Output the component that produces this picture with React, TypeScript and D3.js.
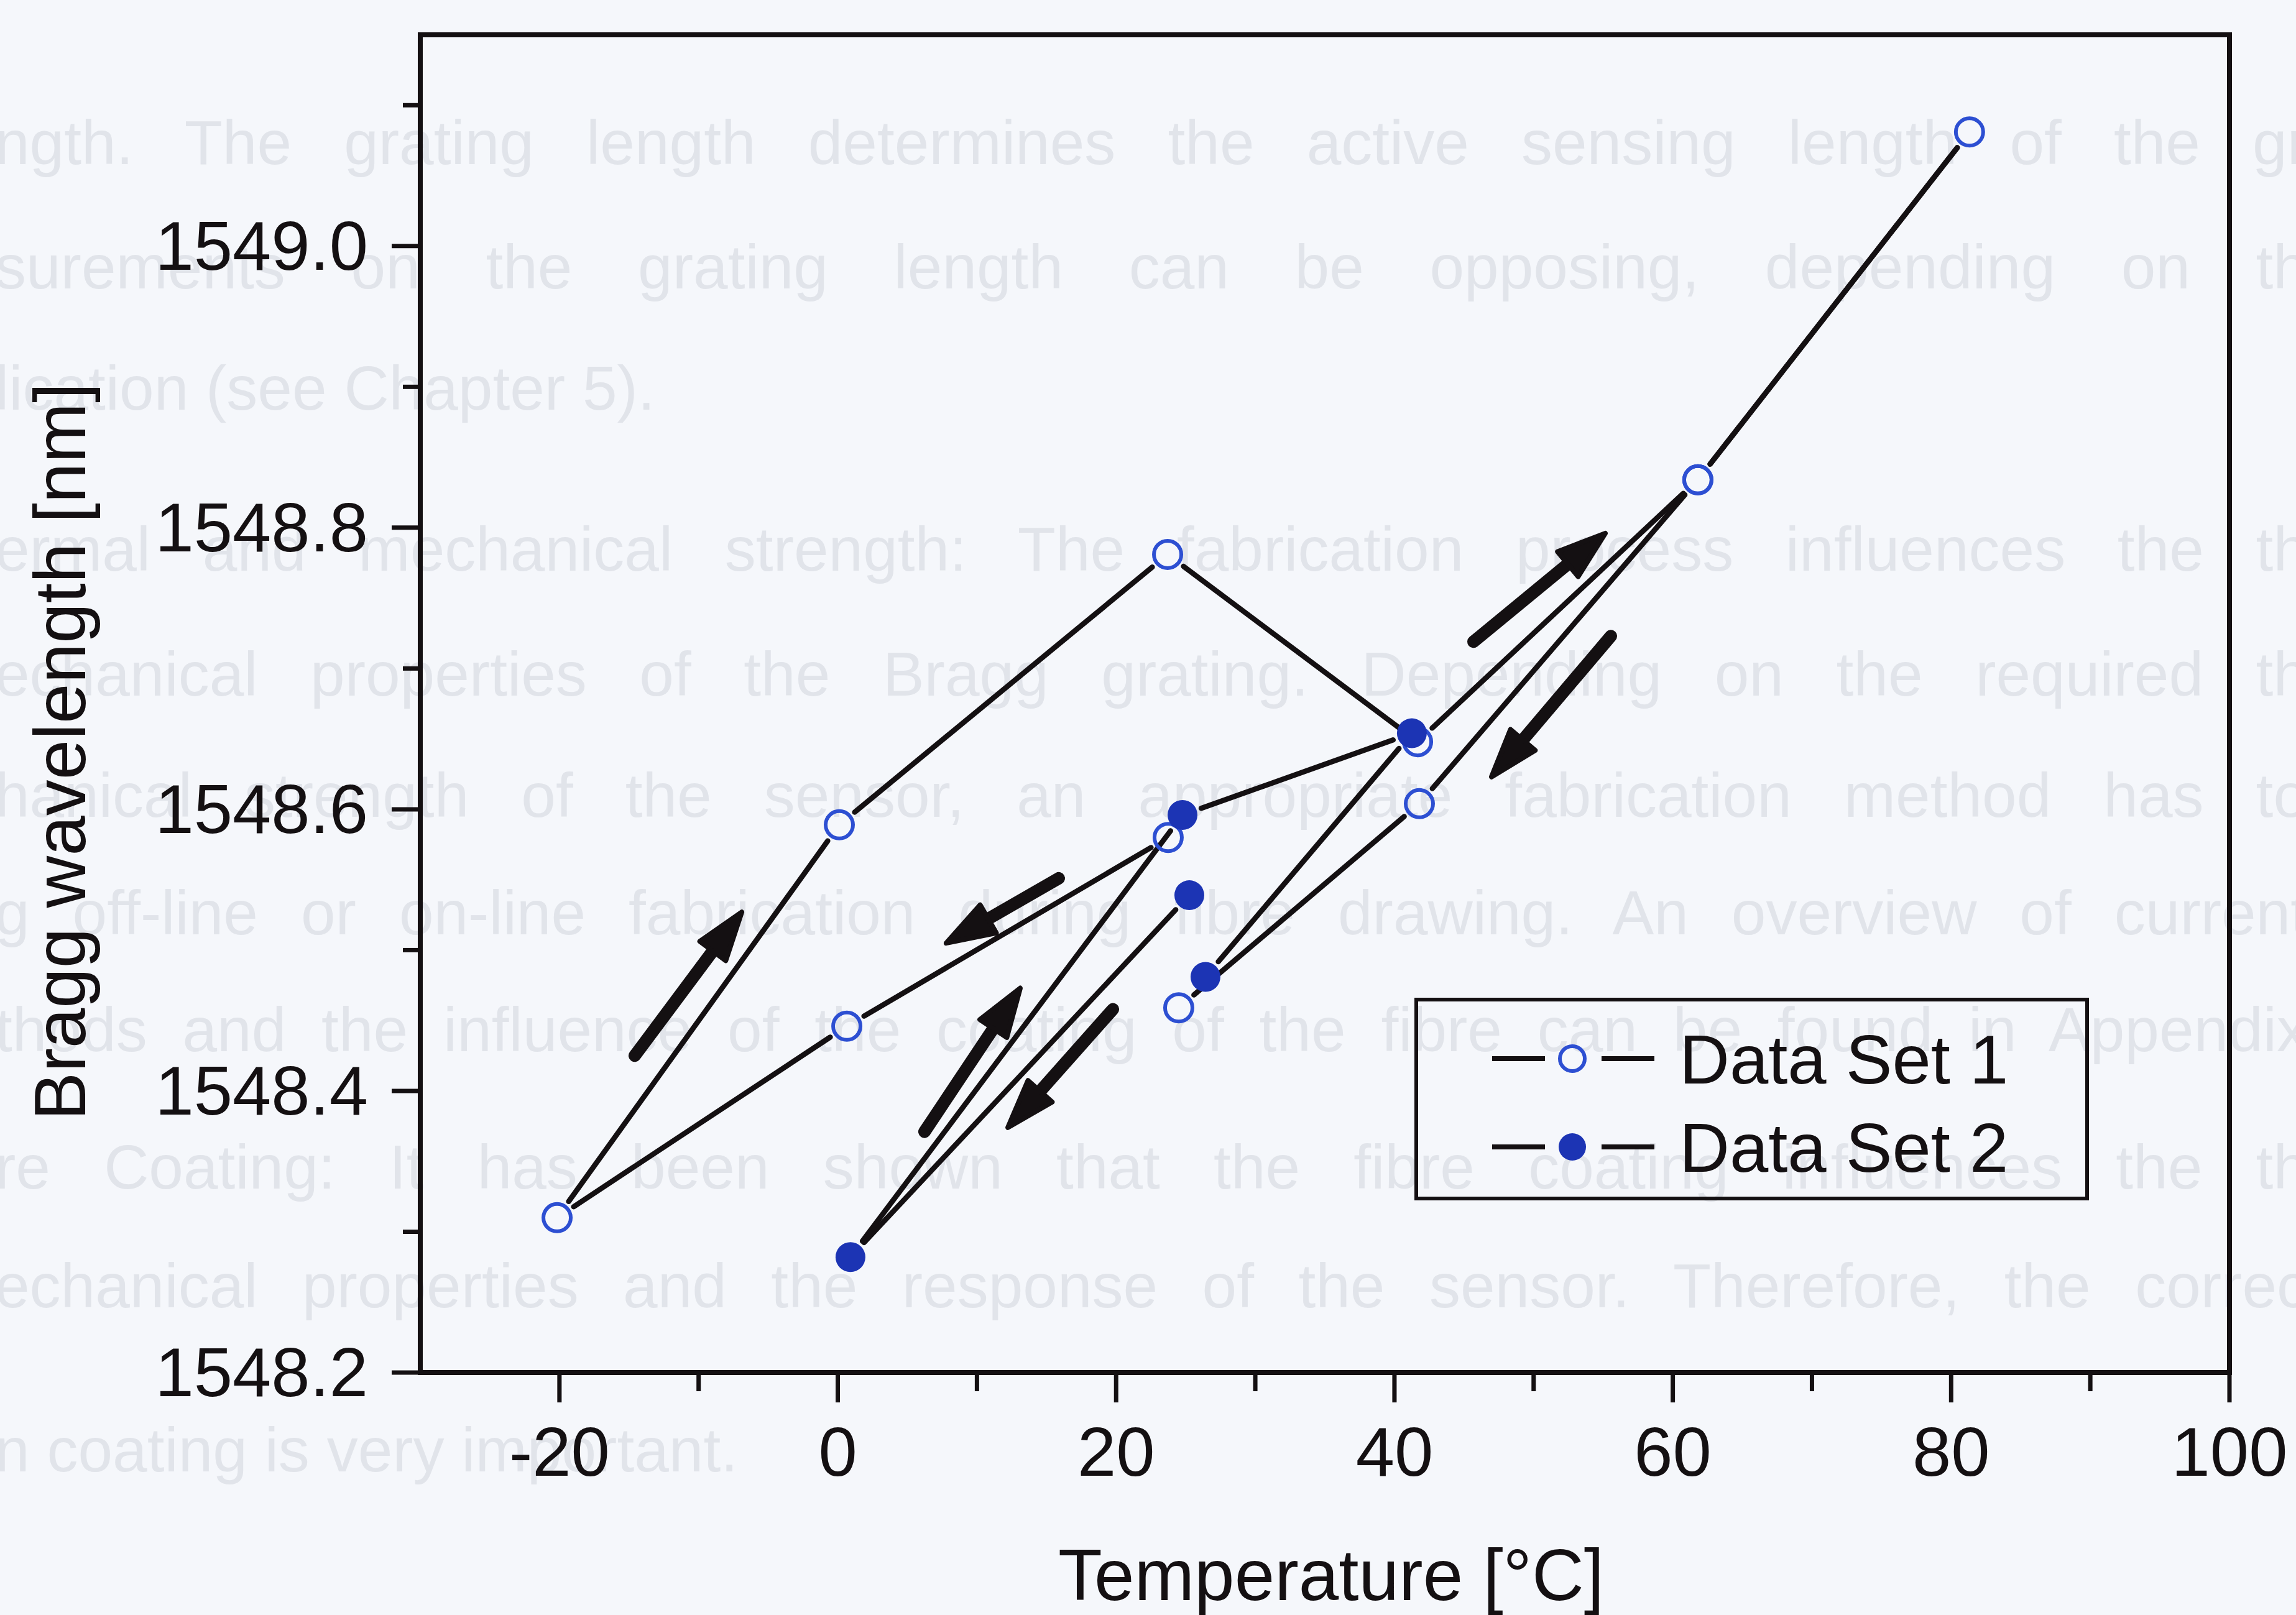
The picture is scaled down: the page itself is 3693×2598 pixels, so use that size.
import React, { useLayoutEffect, useRef } from "react";
import * as d3 from "d3";

// ---------- data ----------
const set1Temp = [23.74, 0.65, -20.17, 0.11, 23.7, 41.66, 61.8, 81.32, 61.8, 41.79, 24.5];
const set1Wl = [1548.58, 1548.446, 1548.31, 1548.589, 1548.781, 1548.648, 1548.834, 1549.081, 1548.834, 1548.604, 1548.459];
const set2Temp = [25.26, 0.91, 24.77, 41.25, 26.42];
const set2Wl = [1548.539, 1548.282, 1548.596, 1548.654, 1548.481];

// direction arrows (tail -> tip) in data units [temperature, wavelength]
const arrowTails = [
  [-14.59, 1548.425],
  [15.88, 1548.551],
  [6.23, 1548.371],
  [19.77, 1548.458],
  [45.68, 1548.719],
  [55.55, 1548.723],
];
const arrowTips = [
  [-6.9, 1548.527],
  [7.79, 1548.505],
  [13.11, 1548.473],
  [12.22, 1548.374],
  [55.15, 1548.796],
  [46.97, 1548.623],
];

const xMajorTicks = [-20, 0, 20, 40, 60, 80, 100];
const xMinorTicks = [-10, 10, 30, 50, 70, 90];
const yMajorTicks = [1548.2, 1548.4, 1548.6, 1548.8, 1549.0];
const yMinorTicks = [1548.3, 1548.5, 1548.7, 1548.9, 1549.1];

const seriesNames = ["Data Set 1", "Data Set 2"];
const xTitle = "Temperature [°C]";
const yTitle = "Bragg wavelength [nm]";

// faint show-through text of the scanned page behind the chart
const ghostLines = [
  "ngth. The grating length determines the active sensing length of the gr",
  "surements on the grating length can be opposing, depending on th",
  "lication (see Chapter 5).",
  "ermal and mechanical strength: The fabrication process influences the th",
  "echanical properties of the Bragg grating. Depending on the required th",
  "hanical strength of the sensor, an appropriate fabrication method has to",
  "g off-line or on-line fabrication during fibre drawing. An overview of current",
  "thods and the influence of the coating of the fibre can be found in Appendix",
  "re Coating: It has been shown that the fibre coating influences the th",
  "echanical properties and the response of the sensor. Therefore, the correc",
  "n coating is very important.",
];
const ghostBaselines = [264, 464, 659, 918, 1119, 1314, 1503, 1691, 1912, 2103, 2367];
const ghostJustified = [true, true, false, true, true, true, true, true, true, true, false];

// ---------- layout ----------
const W = 3693;
const H = 2598;
const left = 676;
const right = 3586;
const top = 56;
const bottom = 2208;
const FONT = "'Liberation Sans', Arial, Helvetica, sans-serif";
const BG = "#f5f7fb";
const GHOST = "#e1e4ea";
const INK = "#141012";
const BLUE_FILL = "#1c34b4";
const BLUE_STROKE = "#2d4fd2";
const MR = 22; // marker radius
const GAP = 32; // line gap at markers

const x = d3.scaleLinear().domain([-30, 100]).range([left, right]);
const y = d3.scaleLinear().domain([1548.2, 1549.15]).range([bottom, top]);

function segments(ts: number[], ws: number[]) {
  const out: { x1: number; y1: number; x2: number; y2: number }[] = [];
  for (let i = 0; i < ts.length - 1; i++) {
    const ax = x(ts[i]), ay = y(ws[i]);
    const bx = x(ts[i + 1]), by = y(ws[i + 1]);
    const dx = bx - ax, dy = by - ay;
    const len = Math.hypot(dx, dy);
    if (len <= 2 * GAP) continue;
    const ux = dx / len, uy = dy / len;
    out.push({ x1: ax + ux * GAP, y1: ay + uy * GAP, x2: bx - ux * GAP, y2: by - uy * GAP });
  }
  return out;
}

function Arrow({ tail, tip }: { tail: number[]; tip: number[] }) {
  const tx = x(tail[0]), ty = y(tail[1]);
  const px = x(tip[0]), py = y(tip[1]);
  const dx = px - tx, dy = py - ty;
  const len = Math.hypot(dx, dy);
  const ux = dx / len, uy = dy / len;
  const nx = -uy, ny = ux;
  const headLen = 78, half = 26;
  const bx = px - ux * headLen, by = py - uy * headLen;
  const pts = [
    [px, py],
    [bx + nx * half, by + ny * half],
    [bx - nx * half, by - ny * half],
  ];
  return (
    <g>
      <line x1={tx} y1={ty} x2={bx + ux * 12} y2={by + uy * 12} stroke={INK} strokeWidth={20} strokeLinecap="round" />
      <polygon points={pts.map((p) => p.join(",")).join(" ")} fill={INK} stroke={INK} strokeWidth={8} strokeLinejoin="round" />
    </g>
  );
}

export default function App() {
  const seg1 = segments(set1Temp, set1Wl);
  const seg2 = segments(set2Temp, set2Wl);
  const fs = 112;
  const legX = 2278, legY = 1608, legW = 1079, legH = 320;
  const rows = [1703, 1845];
  const ghostRef = useRef<SVGGElement | null>(null);

  // justify the faint page lines with word spacing (as in the printed page)
  useLayoutEffect(() => {
    const g = ghostRef.current;
    if (!g) return;
    const texts = g.querySelectorAll("text[data-justify='1']");
    texts.forEach((node) => {
      const t = node as SVGTextElement;
      const natural = t.getComputedTextLength();
      const spaces = (t.textContent || "").split(" ").length - 1;
      const target = 3720;
      if (spaces > 0 && natural < target) {
        t.setAttribute("word-spacing", String((target - natural) / spaces));
      }
    });
  }, []);

  return (
    <svg
      width={W}
      height={H}
      viewBox={`0 0 ${W} ${H}`}
      style={{ position: "absolute", left: 0, top: 0, display: "block" }}
      fontFamily={FONT}
    >
      <rect x={0} y={0} width={W} height={H} fill={BG} />

      {/* faint page text */}
      <g ref={ghostRef} fill={GHOST} fontSize={100}>
        {ghostLines.map((t, i) => (
          <text key={i} x={-8} y={ghostBaselines[i]} data-justify={ghostJustified[i] ? "1" : "0"}>
            {t}
          </text>
        ))}
      </g>

      {/* frame */}
      <rect x={left} y={top} width={right - left} height={bottom - top} fill="none" stroke={INK} strokeWidth={8} />

      {/* x ticks */}
      {xMajorTicks.map((t) => (
        <g key={"xm" + t}>
          <line x1={x(t)} x2={x(t)} y1={bottom} y2={bottom + 48} stroke={INK} strokeWidth={7} />
          <text x={x(t)} y={2374} fontSize={fs} textAnchor="middle" fill={INK}>
            {String(t)}
          </text>
        </g>
      ))}
      {xMinorTicks.map((t) => (
        <line key={"xn" + t} x1={x(t)} x2={x(t)} y1={bottom} y2={bottom + 30} stroke={INK} strokeWidth={7} />
      ))}

      {/* y ticks */}
      {yMajorTicks.map((t) => (
        <g key={"ym" + t}>
          <line x1={left} x2={left - 46} y1={y(t)} y2={y(t)} stroke={INK} strokeWidth={7} />
          <text x={592} y={y(t) + 38} fontSize={fs} textAnchor="end" fill={INK}>
            {t.toFixed(1)}
          </text>
        </g>
      ))}
      {yMinorTicks.map((t) => (
        <line key={"yn" + t} x1={left} x2={left - 28} y1={y(t)} y2={y(t)} stroke={INK} strokeWidth={7} />
      ))}

      {/* axis titles */}
      <text x={(left + right) / 2 + 10} y={2574} fontSize={116} textAnchor="middle" fill={INK}>
        {xTitle}
      </text>
      <text transform="translate(137,1209) rotate(-90)" fontSize={116} textAnchor="middle" fill={INK}>
        {yTitle}
      </text>

      {/* data lines */}
      {seg1.map((s, i) => (
        <line key={"s1" + i} {...s} stroke={INK} strokeWidth={8.5} strokeLinecap="round" />
      ))}
      {seg2.map((s, i) => (
        <line key={"s2" + i} {...s} stroke={INK} strokeWidth={8.5} strokeLinecap="round" />
      ))}

      {/* arrows */}
      {arrowTails.map((t, i) => (
        <Arrow key={"a" + i} tail={t} tip={arrowTips[i]} />
      ))}

      {/* markers */}
      {set1Temp.map((t, i) => (
        <circle key={"m1" + i} cx={x(t)} cy={y(set1Wl[i])} r={MR} fill="none" stroke={BLUE_STROKE} strokeWidth={6} />
      ))}
      {set2Temp.map((t, i) => (
        <circle key={"m2" + i} cx={x(t)} cy={y(set2Wl[i])} r={MR + 2} fill={BLUE_FILL} />
      ))}

      {/* legend */}
      <rect x={legX} y={legY} width={legW} height={legH} fill="none" stroke={INK} strokeWidth={6} />
      {rows.map((ry, i) => (
        <g key={"leg" + i}>
          <line x1={2400} x2={2485} y1={ry} y2={ry} stroke={INK} strokeWidth={8} />
          <line x1={2576} x2={2661} y1={ry} y2={ry} stroke={INK} strokeWidth={8} />
          {i === 0 ? (
            <circle cx={2529} cy={ry} r={20} fill="none" stroke={BLUE_STROKE} strokeWidth={6} />
          ) : (
            <circle cx={2529} cy={ry} r={22} fill={BLUE_FILL} />
          )}
          <text x={2701} y={ry + 40} fontSize={112} fill={INK}>
            {seriesNames[i]}
          </text>
        </g>
      ))}
    </svg>
  );
}
